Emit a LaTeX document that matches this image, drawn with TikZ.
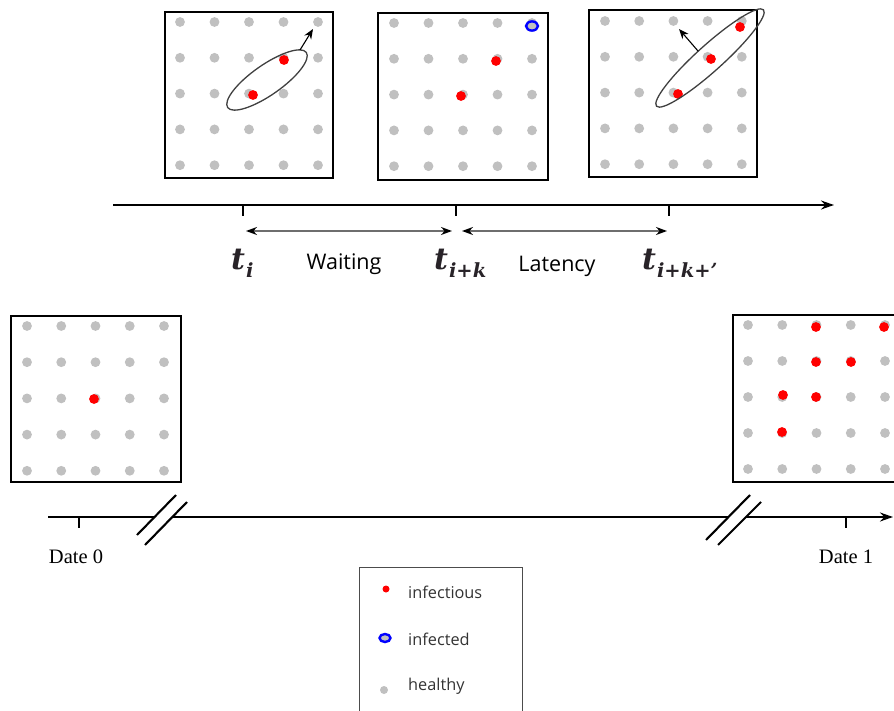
\documentclass[tikz,border=0pt]{standalone}
\usepackage{fontspec}
\setmainfont{Open Sans}
\newfontfamily\datefont{Liberation Serif}
\newfontfamily\tfont{DejaVu Serif}
\usetikzlibrary{arrows.meta}
\definecolor{dotgray}{RGB}{192,192,192}
\definecolor{dotred}{RGB}{255,0,0}
\definecolor{ringblue}{RGB}{0,0,255}
\definecolor{spangray}{RGB}{110,110,110}
\definecolor{tcol}{RGB}{40,35,40}
\newcommand{\subtxt}[1]{\raisebox{-8pt}{\fontsize{19.5}{22}\selectfont #1}}
\begin{document}
\begin{tikzpicture}[x=1pt,y=-1pt,
  panel/.style={draw=black,line width=2.7pt},
  healthy/.style={circle,fill=dotgray,inner sep=0pt,minimum size=9.8pt},
  infectious/.style={circle,fill=dotred,inner sep=0pt,minimum size=9.8pt},
  ring/.style={draw=ringblue,line width=2.4pt,fill=dotgray},
  axis/.style={line width=1.9pt,draw=black},
  tick/.style={line width=1.7pt,draw=black},
  span/.style={line width=1.4pt,draw=spangray,{Stealth[length=11pt,width=8pt,black]}-{Stealth[length=11pt,width=8pt,black]}},
  cluster/.style={draw=black!75,line width=1.3pt},
  push/.style={line width=1.1pt,draw=black,-{Stealth[length=10pt,width=8pt]}},
  breakmark/.style={line width=2.1pt,draw=black},
  tlabel/.style={text=tcol,inner sep=0pt,anchor=base west,font=\tfont\bfseries\itshape\fontsize{30}{34}\selectfont},
  wordlabel/.style={inner sep=0pt,anchor=base,font=\fontsize{21.5}{25}\selectfont},
  datelabel/.style={inner sep=0pt,anchor=base,font=\datefont\fontsize{20.5}{24}\selectfont},
  legendtext/.style={inner sep=0pt,anchor=base west,text=black!80,font=\fontsize{16.3}{19}\selectfont},
  legendline/.style={draw=black!70,line width=1pt}
]
\useasboundingbox (0,0) rectangle (894,711);
\clip (0,0) rectangle (894,711);

% ---------- panels: healthy grid ----------
\foreach \c in {0,...,4}{\foreach \r in {0,...,4}{
  \node[healthy] (a-\c-\r) at (180+34.5*\c, 22+35.8*\r) {};
  \node[healthy] (b-\c-\r) at (394+34.5*\c, 23+35.8*\r) {};
  \node[healthy] (c-\c-\r) at (605+34.2*\c, 21+35.8*\r) {};
  \node[healthy] (d-\c-\r) at (27+34.25*\c, 326+36.2*\r) {};
  \node[healthy] (e-\c-\r) at (748+34.25*\c, 325+36*\r) {};
}}
\draw[panel] (165,12) rectangle (333,178);
\draw[panel] (378,13) rectangle (548,180);
\draw[panel] (589,10) rectangle (757,177);
\draw[panel] (11,316) rectangle (181,482);
\draw[panel] (733,315) rectangle (912,482);

% infectious dots
\node[infectious] (a-r1) at (284,60) {};
\node[infectious] (a-r2) at (253,95) {};
\node[infectious] (b-r1) at (496,61) {};
\node[infectious] (b-r2) at (461,96) {};
\node[infectious] (c-r1) at (740,27) {};
\node[infectious] (c-r2) at (711,59) {};
\node[infectious] (c-r3) at (678,94) {};
\node[infectious] (d-r1) at (94,399) {};
\node[infectious] (e-r1) at (816,327) {};
\node[infectious] (e-r2) at (884,327) {};
\node[infectious] (e-r3) at (816,362) {};
\node[infectious] (e-r4) at (851,362) {};
\node[infectious] (e-r5) at (783,395) {};
\node[infectious] (e-r6) at (816,397) {};
\node[infectious] (e-r7) at (782,432) {};
% infected ring
\draw[ring] (532,26) ellipse [x radius=6pt, y radius=4.6pt];

% clusters
\coordinate (k1) at (267,80);
\coordinate (k3) at (710,58);
\draw[cluster, rotate around={35:(k1)}] (k1) ellipse [x radius=48pt, y radius=15pt];
\draw[cluster, rotate around={42:(k3)}] (k3) ellipse [x radius=72pt, y radius=13pt];
\coordinate (p1s) at (300,50);
\coordinate (p1e) at (313,29);
\coordinate (p3s) at (698,51);
\coordinate (p3e) at (679,29);
\draw[push] (p1s) -- (p1e);
\draw[push] (p3s) -- (p3e);

% ---------- top timeline ----------
\coordinate (tl0) at (113,205);
\coordinate (tl1) at (834,205);
\draw[axis,-{Stealth[length=13pt,width=9pt]}] (tl0) -- (tl1);
\coordinate (t1) at (243,205);
\coordinate (t2) at (456,205);
\coordinate (t3) at (669,205);
\coordinate (t1b) at (243,216);
\coordinate (t2b) at (456,216);
\coordinate (t3b) at (669,216);
\draw[tick] (t1) -- (t1b);
\draw[tick] (t2) -- (t2b);
\draw[tick] (t3) -- (t3b);
\coordinate (w0) at (246,231);
\coordinate (w1) at (452,231);
\coordinate (l0) at (462,231);
\coordinate (l1) at (667,231);
\draw[span] (w0) -- (w1);
\draw[span] (l0) -- (l1);

\node[tlabel] (lab-ti) at (231,270) {t\kern1pt\subtxt{i}};
\node[tlabel] (lab-tik) at (434,270) {t\kern1pt\subtxt{i+k}};
\node[tlabel] (lab-tikl) at (642,270) {t\kern1pt\subtxt{i+k+\textquoteright}};
\node[wordlabel] (waiting) at (344,270) {Waiting};
\node[wordlabel] (latency) at (557,272) {Latency};

% ---------- bottom timeline ----------
\coordinate (bl0) at (48,517);
\coordinate (bl1) at (154,517);
\coordinate (bl2) at (172,517);
\coordinate (bl3) at (728,517);
\coordinate (bl4) at (746,517);
\coordinate (bl5) at (893,517);
\draw[axis] (bl0) -- (bl1);
\draw[axis] (bl2) -- (bl3);
\draw[axis,-{Stealth[length=13pt,width=9pt]}] (bl4) -- (bl5);
\coordinate (s1a) at (137,535);
\coordinate (s1b) at (176,495);
\coordinate (s2a) at (145,545);
\coordinate (s2b) at (187,502);
\coordinate (s3a) at (706,540);
\coordinate (s3b) at (750,495);
\coordinate (s4a) at (718,545);
\coordinate (s4b) at (761,502);
\draw[breakmark] (s1a) -- (s1b);
\draw[breakmark] (s2a) -- (s2b);
\draw[breakmark] (s3a) -- (s3b);
\draw[breakmark] (s4a) -- (s4b);
\coordinate (d0) at (79,517);
\coordinate (d0b) at (79,528);
\coordinate (d1) at (846,517);
\coordinate (d1b) at (846,528);
\draw[tick] (d0) -- (d0b);
\draw[tick] (d1) -- (d1b);
\node[datelabel] (date0) at (76,563) {Date 0};
\node[datelabel] (date1) at (846,563) {Date 1};

% ---------- legend ----------
\draw[legendline] (359,720) rectangle (522,567);
\node[circle,fill=dotred,inner sep=0pt,minimum size=7pt] (lg-inf) at (386,589) {};
\draw[ring] (385,638) ellipse [x radius=5.5pt, y radius=4pt];
\coordinate (lg-ring) at (385,638);
\node[healthy,minimum size=8pt] (lg-h) at (384,690) {};
\node[legendtext] (lt1) at (408,598) {infectious};
\node[legendtext] (lt2) at (408,645) {infected};
\node[legendtext] (lt3) at (408,690) {healthy};
\end{tikzpicture}
\end{document}
